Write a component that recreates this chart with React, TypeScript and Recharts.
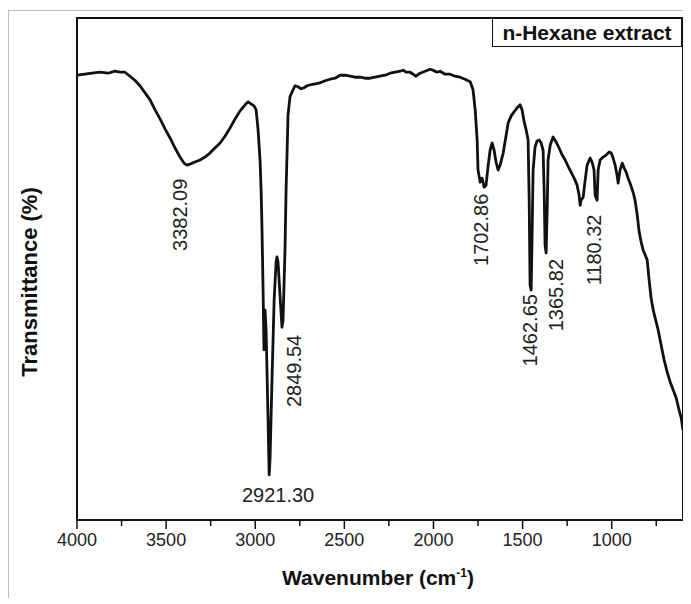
import { LineChart, Line, XAxis, YAxis, ReferenceDot, ReferenceArea } from "recharts";

const wavenumbers = [
  4000, 3955, 3916, 3871, 3826, 3787, 3759, 3731, 3703, 3675, 3647, 3618, 3590, 3562, 3534, 3506,
  3478, 3450, 3422, 3400, 3383, 3366, 3338, 3310, 3282, 3254, 3226, 3197, 3169, 3141, 3113, 3085,
  3057, 3040, 3024, 3007, 2995, 2984, 2973, 2967, 2962, 2956, 2951, 2945, 2939, 2928, 2922, 2917,
  2906, 2894, 2883, 2878, 2872, 2861, 2850, 2844, 2833, 2827, 2821, 2816, 2805, 2793, 2777, 2760,
  2743, 2726, 2709, 2692, 2664, 2636, 2608, 2580, 2552, 2524, 2496, 2468, 2440, 2412, 2384, 2356,
  2328, 2300, 2271, 2243, 2215, 2187, 2170, 2154, 2131, 2114, 2098, 2075, 2047, 2019, 2002, 1980,
  1963, 1935, 1907, 1879, 1851, 1823, 1794, 1778, 1766, 1755, 1750, 1738, 1727, 1716, 1705, 1693,
  1682, 1671, 1660, 1649, 1637, 1626, 1609, 1592, 1581, 1564, 1548, 1531, 1514, 1503, 1491, 1480,
  1469, 1463, 1458, 1452, 1447, 1441, 1430, 1419, 1407, 1396, 1385, 1379, 1374, 1368, 1362, 1357,
  1345, 1329, 1312, 1295, 1278, 1261, 1245, 1228, 1211, 1194, 1183, 1177, 1172, 1160, 1149, 1138,
  1121, 1110, 1099, 1093, 1082, 1076, 1065, 1048, 1031, 1014, 1003, 992, 981, 970, 964, 953,
  941, 930, 919, 908, 897, 880, 869, 857, 846, 835, 824, 812, 801, 790, 779, 767,
  756, 739, 723, 706, 689, 672, 655, 638, 622, 610, 600,
];

// transmittance (%), same order
const transmittance = [
  88.6, 88.8, 89.0, 89.2, 89.0, 89.4, 89.2, 89.2, 88.4, 87.6, 86.5, 85.1, 83.7, 81.7, 79.9, 77.9,
  76.1, 74.1, 72.3, 71.1, 70.7, 70.9, 71.3, 71.7, 72.3, 73.1, 74.1, 75.1, 76.5, 78.1, 79.9, 81.5,
  82.7, 83.3, 82.9, 82.5, 81.7, 77.7, 71.7, 65.7, 57.8, 45.8, 33.9, 41.8, 37.8, 19.9, 9.0, 12.0,
  27.9, 43.8, 51.4, 52.4, 51.4, 44.8, 38.4, 39.8, 53.8, 65.7, 73.7, 80.7, 84.3, 85.3, 86.5, 86.3,
  85.9, 86.1, 86.5, 86.7, 86.9, 87.1, 87.5, 87.8, 88.0, 88.6, 88.6, 88.4, 88.2, 88.2, 88.0, 88.0,
  88.2, 88.4, 88.6, 89.0, 89.2, 89.4, 89.6, 89.2, 89.2, 88.8, 88.4, 89.0, 89.4, 89.8, 89.6, 89.2,
  89.4, 88.8, 88.8, 88.4, 88.2, 87.8, 87.3, 85.7, 81.7, 75.7, 69.7, 67.3, 68.1, 66.3, 66.7, 70.7,
  73.7, 75.1, 73.7, 71.3, 69.7, 70.7, 73.1, 76.7, 79.1, 80.5, 81.3, 82.1, 82.7, 81.7, 79.3, 77.7,
  75.7, 63.7, 46.8, 45.8, 55.8, 69.7, 74.3, 75.5, 75.7, 75.1, 73.7, 65.7, 54.8, 53.2, 61.8, 71.7,
  74.7, 76.3, 75.3, 74.1, 72.7, 71.7, 70.5, 69.3, 68.1, 66.7, 64.7, 62.7, 63.7, 64.3, 67.7, 70.7,
  72.1, 71.3, 69.7, 64.7, 63.7, 69.7, 71.7, 72.3, 72.7, 73.3, 73.1, 72.1, 70.7, 68.7, 67.1, 69.7,
  71.1, 70.1, 69.3, 68.1, 67.1, 65.3, 63.7, 60.8, 57.4, 55.4, 53.8, 52.8, 51.8, 47.8, 44.2, 41.8,
  40.2, 37.8, 34.9, 31.9, 29.5, 27.5, 25.9, 24.3, 21.9, 20.3, 17.9,
];

const xTicks = [4000, 3750, 3500, 3250, 3000, 2750, 2500, 2250, 2000, 1750, 1500, 1250, 1000, 750];

// peak annotations: text, anchor wavenumber / transmittance, orientation
const peakLabels = ["3382.09", "2921.30", "2849.54", "1702.86", "1462.65", "1365.82", "1180.32"];
const peakLabelW = [3422, 2872, 2782, 1733, 1458, 1312, 1099];
const peakLabelT = [60.8, 5.0, 29.7, 57.8, 37.8, 44.8, 53.8];
const peakLabelVertical = [true, false, true, true, true, true, true];

const data = wavenumbers.map((w, i) => ({ w, t: transmittance[i] }));
const FONT = "Arial, 'Liberation Sans', Helvetica, sans-serif";

const BottomTick = (props: any) => {
  const { x, y, payload } = props;
  const major = payload.value % 500 === 0;
  return (
    <g>
      <line x1={x} y1={y} x2={x} y2={y + (major ? 9 : 6)} stroke="#111" strokeWidth={1.5} />
      {major && (
        <text x={x} y={y + 20} textAnchor="middle" dominantBaseline="central"
          fontSize={18} fontFamily={FONT} fill="#222">
          {payload.value}
        </text>
      )}
    </g>
  );
};

const PeakText = (vertical: boolean, text: string) => (p: any) => {
  const { cx, cy } = p;
  if (vertical) {
    return (
      <text x={cx} y={cy} transform={`rotate(-90 ${cx} ${cy})`} textAnchor="middle"
        dominantBaseline="central" fontSize={20} fontFamily={FONT} fill="#222">
        {text}
      </text>
    );
  }
  return (
    <text x={cx} y={cy} textAnchor="middle" dominantBaseline="central"
      fontSize={20} fontFamily={FONT} fill="#222">
      {text}
    </text>
  );
};

export default function App() {
  return (
    <div style={{ position: "relative", width: 680, height: 590, fontFamily: FONT, background: "#fff" }}>
      {/* scanned page frame */}
      <div style={{ position: "absolute", left: 0, top: 2, width: 680, height: 600, borderLeft: "1px solid #bbb", borderTop: "1px solid #bbb", borderRight: "2px solid #ccc" }} />
      <LineChart width={680} height={590} data={data} margin={{ top: 10, right: 5, left: 69, bottom: 48 }}>
        <XAxis dataKey="w" type="number" domain={[600, 4000]} reversed ticks={xTicks}
          interval={0} height={30} tickSize={0} tickMargin={0} tickLine={false}
          axisLine={{ stroke: "#111", strokeWidth: 2 }} tick={<BottomTick />} />
        <YAxis domain={[0, 100]} width={0} tick={false} tickLine={false} axisLine={false} />
        {/* plot frame */}
        <ReferenceArea x1={4000} x2={600} y1={0} y2={100} fill="none" fillOpacity={0}
          stroke="#111" strokeWidth={2} ifOverflow="visible" />
        <Line type="linear" dataKey="t" stroke="#111" strokeWidth={2.8} dot={false}
          isAnimationActive={false} strokeLinejoin="round" />
        {peakLabels.map((txt, i) => (
          <ReferenceDot key={txt} x={peakLabelW[i]} y={peakLabelT[i]} r={1}
            shape={PeakText(peakLabelVertical[i], txt)} />
        ))}
      </LineChart>
      {/* legend box */}
      <div style={{ position: "absolute", left: 484, top: 10, width: 188, height: 27, border: "1.5px solid #111",
        background: "#fff", fontWeight: 700, fontSize: 21, lineHeight: "27px", textAlign: "center", color: "#111" }}>
        n-Hexane extract
      </div>
      {/* axis titles */}
      <div style={{ position: "absolute", left: 170, top: 558, width: 400, textAlign: "center",
        fontWeight: 700, fontSize: 21, color: "#111" }}>
        Wavenumber (cm<sup style={{ fontSize: 12 }}>-1</sup>)
      </div>
      <div style={{ position: "absolute", left: 22 - 150, top: 274 - 13, width: 300, textAlign: "center",
        fontWeight: 700, fontSize: 22, color: "#111", transform: "rotate(-90deg)", lineHeight: "26px" }}>
        Transmittance (%)
      </div>
    </div>
  );
}
